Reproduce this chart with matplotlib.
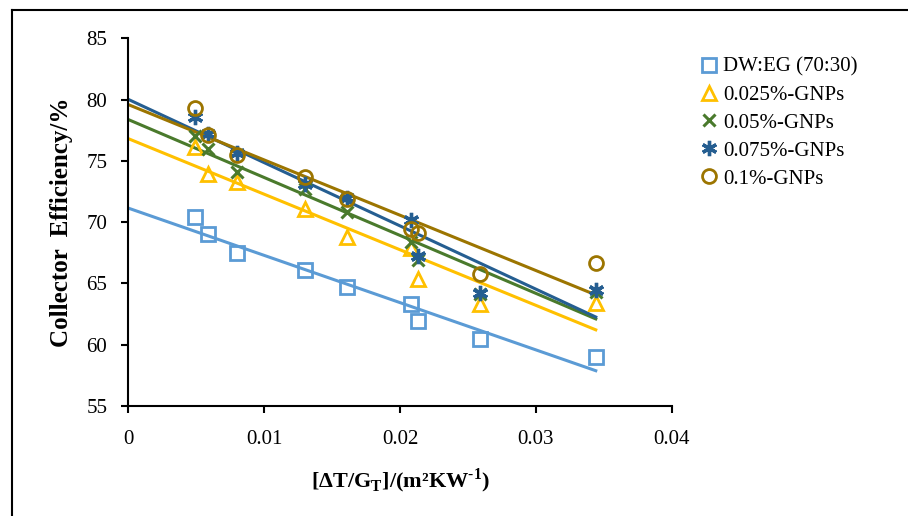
import matplotlib
matplotlib.use("Agg")
import matplotlib.pyplot as plt
from matplotlib.lines import Line2D
import numpy as np

plt.rcParams['font.family'] = ['Liberation Serif', 'DejaVu Serif']
plt.rcParams['mathtext.fontset'] = 'custom'
plt.rcParams['mathtext.rm'] = 'Liberation Serif'
plt.rcParams['mathtext.bf'] = 'Liberation Serif:bold'

# x values: [dT/G_T] (m2 K / W)
x = [0.0049, 0.0059, 0.0080, 0.0130, 0.0161, 0.0208, 0.0213, 0.0259, 0.0344]

# collector efficiency (%)
eff_base = [70.4, 69.0, 67.5, 66.1, 64.7, 63.3, 61.9, 60.5, 59.0]
eff_025 = [76.1, 73.9, 73.3, 71.1, 68.8, 67.9, 65.4, 63.3, 63.4]
eff_05 = [77.0, 76.0, 74.1, 72.7, 70.8, 68.4, 66.9, 64.1, 64.3]
eff_075 = [78.6, 77.2, 75.6, 73.1, 72.0, 70.2, 67.2, 64.2, 64.5]
eff_1 = [79.3, 77.1, 75.5, 73.7, 71.9, 69.4, 69.1, 65.8, 66.7]

labels = ['DW:EG (70:30)', '0.025%-GNPs', '0.05%-GNPs', '0.075%-GNPs', '0.1%-GNPs']
colors = ['#5B9BD5', '#FFC000', '#4A7A2C', '#255E91', '#9C7500']
markers = ['s', '^', 'x', (6, 2, 0), 'o']
series = [eff_base, eff_025, eff_05, eff_075, eff_1]

fig = plt.figure(figsize=(9.08, 5.16), dpi=100)
ax = fig.add_axes([0.141, 0.213, 0.599, 0.713])

xs = np.array(x)
for y, lab, c, m in zip(series, labels, colors, markers):
    # linear trend line from x=0 to last point
    k, b = np.polyfit(xs, np.array(y), 1)
    xl = np.array([0, xs.max()])
    ax.plot(xl, k * xl + b, color=c, lw=2.2, zorder=2)
    if m == 'x':
        ax.plot(xs, y, linestyle='none', marker=m, color=c, ms=9, mew=2.2,
                label=lab, zorder=3)
    elif m == (6, 2, 0):
        ax.plot(xs, y, linestyle='none', marker=m, color=c, ms=11, mew=2.4,
                label=lab, zorder=3)
    else:
        ax.plot(xs, y, linestyle='none', marker=m, mfc='none', mec=c, ms=10,
                mew=2, label=lab, zorder=3)

ax.set_xlim(0, 0.04)
ax.set_ylim(55, 85)
ax.set_xticks([0, 0.01, 0.02, 0.03, 0.04])
ax.set_xticklabels(['0', '0.01', '0.02', '0.03', '0.04'])
ax.set_yticks(range(55, 86, 5))
ax.spines['top'].set_visible(False)
ax.spines['right'].set_visible(False)
for s in ('left', 'bottom'):
    ax.spines[s].set_linewidth(1.5)
ax.tick_params(axis='both', direction='out', length=5, width=1.5, labelsize=15)
ax.tick_params(axis='x', pad=12)
ax.tick_params(axis='y', pad=10)

ax.set_ylabel('Collector  Efficiency/%', fontsize=18, fontweight='bold')
ax.yaxis.set_label_coords(-0.101, 0.5)
ax.set_xlabel('[ΔT/G$_{\\mathbf{T}}$]/(m²KW$^{\\mathbf{\u20101}}$)',
              fontsize=16, fontweight='bold')
ax.xaxis.set_label_coords(0.5, -0.163)

fig.legend(loc='upper left', bbox_to_anchor=(0.762, 0.905), frameon=False,
           fontsize=15, handlelength=0.8, handletextpad=0.3, labelspacing=0.4,
           borderaxespad=0)

# partial chart border (top and left)
fig.add_artist(Line2D([0.0132, 1.0], [0.9806, 0.9806], color='black', lw=1.5,
                      transform=fig.transFigure))
fig.add_artist(Line2D([0.0132, 0.0132], [0.0, 0.9806], color='black', lw=1.5,
                      transform=fig.transFigure))

fig.savefig('out.png', dpi=100)
